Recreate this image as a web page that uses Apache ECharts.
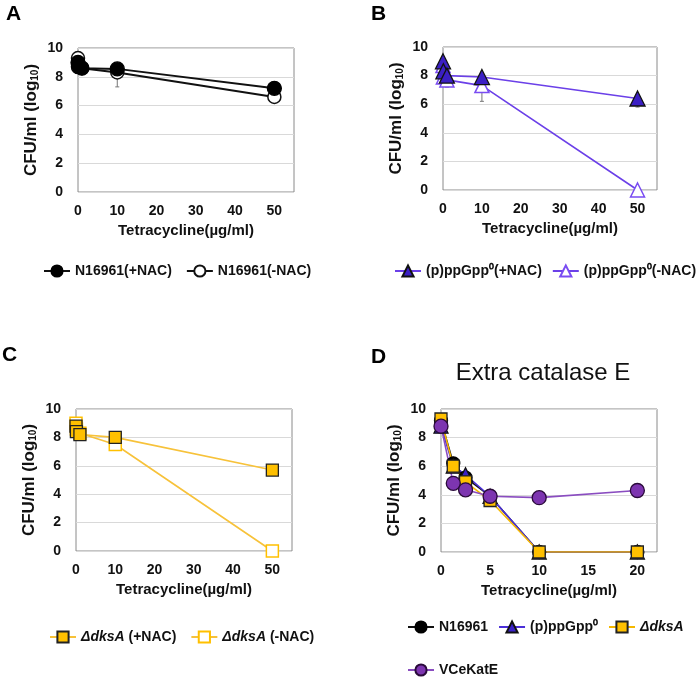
<!DOCTYPE html>
<html><head><meta charset="utf-8">
<script src="https://cdn.jsdelivr.net/npm/echarts@6/dist/echarts.min.js"></script>
<style>html,body{margin:0;padding:0;background:#fff}#c{width:700px;height:679px}</style>
</head><body><div id="c"></div>
<script>
// ---- data ----
const xABC = [0, 0.1, 1, 10, 50];
const aPlus = [9.0, 8.7, 8.6, 8.55, 7.2];
const aMinus = [9.3, 8.9, 8.6, 8.3, 6.6];
const bPlus = [9.0, 8.3, 8.0, 7.9, 6.4];
const bMinus = [8.7, 7.9, 7.7, 7.3, 0];
const cPlus = [8.8, 8.4, 8.2, 8.0, 5.7];
const cMinus = [9.0, 8.6, 8.3, 7.5, 0];
const xD = [0, 1.25, 2.5, 5, 10, 20];
const dN16961 = [9.2, 6.2, 5.2, 3.9, 0, 0];
const dPpGpp = [8.8, 6.0, 5.4, 3.9, 0, 0];
const dDksA = [9.3, 6.0, 4.9, 3.6, 0, 0];
const dKatE = [8.8, 4.8, 4.35, 3.9, 3.8, 4.3];
// error bars: [x, value, lower]
const errA = [[10, 8.3, 7.3]];
const errB = [[1, 7.7, 7.2], [10, 7.3, 6.2], [50, 6.4, 5.8]];
const yTicks = [0, 2, 4, 6, 8, 10];

const pair = (xs, ys) => xs.map((x, i) => [x, ys[i]]);
const FF = 'Liberation Sans, Arial, sans-serif';

const grids = [
  {left: 78, top: 48, width: 216, height: 144},
  {left: 443, top: 47, width: 214, height: 143},
  {left: 76, top: 409, width: 216, height: 142},
  {left: 441, top: 409, width: 216, height: 143}
].map(g => Object.assign(g, {show: true, borderColor: '#8a8a8a', borderWidth: 1, backgroundColor: '#fff'}));

const lbl = {color: '#111', fontWeight: 'bold', fontSize: 14, fontFamily: FF};
function xAxis(i, max, interval) {
  return {type: 'value', gridIndex: i, min: 0, max: max, interval: interval,
    axisLine: {show: false}, axisTick: {show: false}, splitLine: {show: false},
    axisLabel: Object.assign({margin: 12, showMaxLabel: false}, lbl),
    name: 'Tetracycline(µg/ml)', nameLocation: 'middle', nameGap: 31,
    nameTextStyle: Object.assign({}, lbl, {fontSize: 15})};
}
function yAxis(i) {
  return {type: 'value', gridIndex: i, min: yTicks[0], max: yTicks[yTicks.length - 1], interval: 2,
    axisLine: {show: false}, axisTick: {show: false},
    splitLine: {show: true, lineStyle: {color: '#d9d9d9', width: 1}},
    axisLabel: Object.assign({margin: 15}, lbl),
    name: 'CFU/ml (log{s|10})', nameLocation: 'middle', nameGap: 38,
    nameTextStyle: Object.assign({}, lbl, {fontSize: 17,
      rich: {s: {fontSize: 10, fontWeight: 'bold', color: '#111', padding: [7, 0, 0, 0], fontFamily: FF}}})};
}

function lineSeries(name, i, data, opt) {
  return Object.assign({type: 'line', name: name, xAxisIndex: i, yAxisIndex: i, data: data,
    symbol: opt.symbol, symbolSize: opt.size, z: 3,
    lineStyle: {color: opt.line, width: opt.lw || 1.6},
    itemStyle: {color: opt.fill, borderColor: opt.border, borderWidth: opt.bw || 1.3, opacity: 1},
    emphasis: {disabled: true}, animation: false});
}
function errSeries(i, data) {
  return {type: 'custom', xAxisIndex: i, yAxisIndex: i, data: data, z: 1, silent: true, animation: false,
    renderItem: function (params, api) {
      const t = api.coord([api.value(0), api.value(1)]);
      const b = api.coord([api.value(0), api.value(2)]);
      return {type: 'group', children: [
        {type: 'line', shape: {x1: t[0], y1: t[1], x2: b[0], y2: b[1]}, style: {stroke: '#777', lineWidth: 1}},
        {type: 'line', shape: {x1: b[0] - 2, y1: b[1], x2: b[0] + 2, y2: b[1]}, style: {stroke: '#777', lineWidth: 1}}
      ]};
    }};
}

const purpleLine = '#6B40E8', triFill = '#3B1FC4';
const gold = '#FFC000', goldLine = '#F7C23A';

const series = [
  errSeries(0, errA),
  lineSeries('N16961(-NAC)', 0, pair(xABC, aMinus), {symbol: 'circle', size: 13, line: '#111', fill: '#fff', border: '#111', lw: 2, bw: 1.5}),
  lineSeries('N16961(+NAC)', 0, pair(xABC, aPlus), {symbol: 'circle', size: 14, line: '#111', fill: '#000', border: '#000', lw: 2}),
  errSeries(1, errB),
  lineSeries('(p)ppGpp⁰(-NAC)', 1, pair(xABC, bMinus), {symbol: 'triangle', size: 14, line: purpleLine, fill: '#fff', border: '#7A4CF2', bw: 1.5}),
  lineSeries('(p)ppGpp⁰(+NAC)', 1, pair(xABC, bPlus), {symbol: 'triangle', size: 15, line: purpleLine, fill: triFill, border: '#111'}),
  lineSeries('ΔdksA (-NAC)', 2, pair(xABC, cMinus), {symbol: 'rect', size: 12, line: goldLine, fill: '#fff', border: gold, bw: 1.5}),
  lineSeries('ΔdksA (+NAC)', 2, pair(xABC, cPlus), {symbol: 'rect', size: 12, line: goldLine, fill: gold, border: '#222'}),
  lineSeries('N16961', 3, pair(xD, dN16961), {symbol: 'circle', size: 13, line: '#111', fill: '#000', border: '#000'}),
  lineSeries('(p)ppGpp⁰', 3, pair(xD, dPpGpp), {symbol: 'triangle', size: 14, line: '#4B2FD8', fill: '#3B22C8', border: '#111'}),
  lineSeries('ΔdksA', 3, pair(xD, dDksA), {symbol: 'rect', size: 12, line: '#F5B800', fill: gold, border: '#222'}),
  lineSeries('VCeKatE', 3, pair(xD, dKatE), {symbol: 'circle', size: 14, line: '#8A4DC0', fill: '#7D35B0', border: '#2a0a3a'})
];

const legText = Object.assign({}, lbl, {fontSize: 14,
  rich: {i: {fontStyle: 'italic', fontWeight: 'bold', fontSize: 14, color: '#111', fontFamily: FF},
         n: {fontWeight: 'bold', fontSize: 14, color: '#111', fontFamily: FF}}});
const fmt = function (name) {
  if (name.indexOf('ΔdksA') === 0) return '{i|ΔdksA}{n|' + name.slice(5) + '}';
  return name;
};
function legend(data, left, top, extra) {
  return Object.assign({data: data, left: left, top: top, itemWidth: 26, itemHeight: 14, itemGap: 14,
    width: 400, textStyle: legText, formatter: fmt, selectedMode: false}, extra || {});
}

const option = {
  animation: false,
  grid: grids,
  xAxis: [xAxis(0, 55, 10), xAxis(1, 55, 10), xAxis(2, 55, 10), xAxis(3, 22, 5)],
  yAxis: [yAxis(0), yAxis(1), yAxis(2), yAxis(3)],
  legend: [
    legend(['N16961(+NAC)', 'N16961(-NAC)'], 38, 259),
    legend(['(p)ppGpp⁰(+NAC)', '(p)ppGpp⁰(-NAC)'], 389, 259, {itemGap: 10}),
    legend(['ΔdksA (+NAC)', 'ΔdksA (-NAC)'], 44, 625),
    legend(['N16961', '(p)ppGpp⁰', 'ΔdksA'], 402, 615, {itemGap: 10}),
    legend(['VCeKatE'], 402, 658)
  ],
  graphic: [
    {type: 'text', left: 6, top: 4, style: {text: 'A', font: 'bold 21px ' + FF, fill: '#000'}},
    {type: 'text', left: 371, top: 4, style: {text: 'B', font: 'bold 21px ' + FF, fill: '#000'}},
    {type: 'text', left: 2, top: 345, style: {text: 'C', font: 'bold 21px ' + FF, fill: '#000'}},
    {type: 'text', left: 371, top: 347, style: {text: 'D', font: 'bold 21px ' + FF, fill: '#000'}},
    {type: 'text', x: 543, y: 373, style: {text: 'Extra catalase E', font: '24px ' + FF, fill: '#111', textAlign: 'center', textVerticalAlign: 'middle'}}
  ],
  series: series
};
const chart = echarts.init(document.getElementById('c'), null, {renderer: 'canvas'});
chart.setOption(option);
</script></body></html>
